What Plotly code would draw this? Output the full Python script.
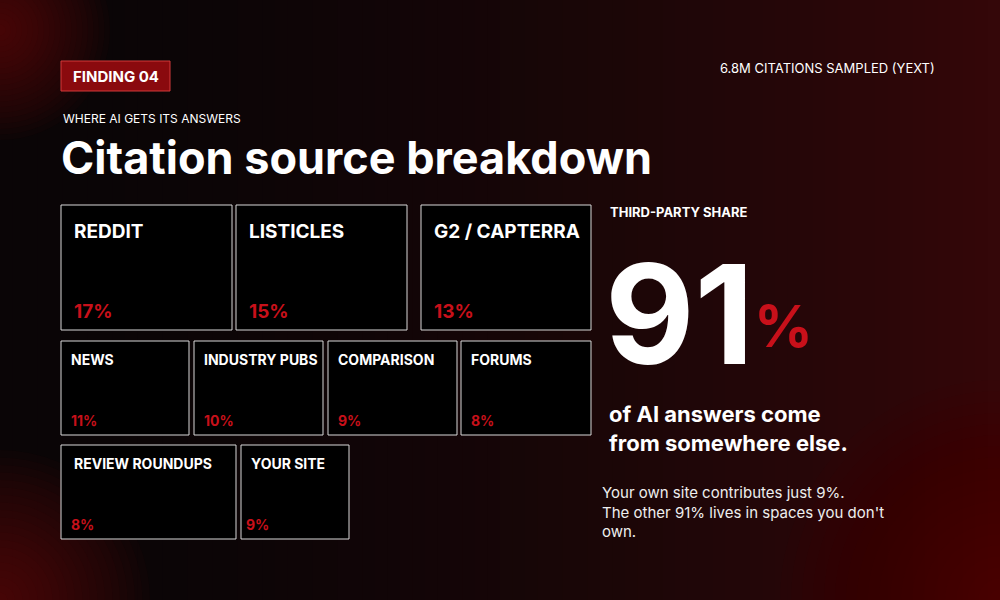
import plotly.graph_objects as go

# ---- data ----
sources = ["REDDIT", "LISTICLES", "G2 / CAPTERRA", "NEWS", "INDUSTRY PUBS", "COMPARISON",
           "FORUMS", "REVIEW ROUNDUPS", "YOUR SITE"]
shares = [17, 15, 13, 11, 10, 9, 8, 8, 9]
third_party_share = 91
own_share = 9

# ---- layout (pixel boxes) ----
box_x0 = [61, 236, 421, 61, 194, 328, 461, 61, 241]
box_x1 = [232, 407, 591, 189, 323, 457, 591, 236, 349]
box_y0 = [205, 205, 205, 341, 341, 341, 341, 445, 445]
box_y1 = [330, 330, 330, 435, 435, 435, 435, 539, 539]
label_size = [19, 19, 19, 14, 14, 14, 14, 14, 14]
FONT = "Inter"

shapes, ann = [], []
# background gradient strips
N = 80
for i in range(N):
    t = i / (N - 1)
    r = int(10 + 42 * t ** 1.8); g = int(5 + 2 * t); b = int(6 + 3 * t)
    shapes.append(dict(type="rect", xref="x", yref="y", x0=1000 * i / N, x1=1000 * (i + 1) / N + 1,
                       y0=0, y1=600, fillcolor=f"rgb({r},{g},{b})", line_width=0, layer="below"))
# soft corner glows
for cx, cy, rad, op in [(0, 30, 110, 0.035), (0, 600, 150, 0.035), (1000, 600, 220, 0.025)]:
    K = 20
    for k in range(K):
        rr = rad * (1 - k / K)
        shapes.append(dict(type="circle", xref="x", yref="y", x0=cx - rr, x1=cx + rr, y0=cy - rr, y1=cy + rr,
                           fillcolor=f"rgba(140,15,20,{op})", line_width=0, layer="below"))

for i, s in enumerate(sources):
    x0, x1, y0, y1 = box_x0[i], box_x1[i], box_y0[i], box_y1[i]
    shapes.append(dict(type="rect", xref="x", yref="y", x0=x0, x1=x1, y0=y0, y1=y1,
                       fillcolor="#000000", line=dict(color="#d8d8d8", width=1)))
    big = label_size[i] > 15
    pad = 11 if big else 8
    if i == 8: pad = 3
    ann.append(dict(x=x0 + (11 if big or i == 7 else 8), y=y0 + (26 if big else 18), text=f"<b>{s}</b>",
                    xanchor="left", yanchor="middle", showarrow=False,
                    font=dict(family=FONT, size=label_size[i], color="white")))
    ann.append(dict(x=x0 + pad, y=y1 - (19 if big else 15), text=f"<b>{shares[i]}%</b>",
                    xanchor="left", yanchor="middle", showarrow=False,
                    font=dict(family=FONT, size=label_size[i], color="#c8101a")))

# badge
shapes.append(dict(type="rect", xref="x", yref="y", x0=61, x1=170, y0=61, y1=91,
                   fillcolor="#8a0a0e", line=dict(color="#d23a3a", width=1)))
ann += [
    dict(x=115.5, y=76, text="<b>FINDING 04</b>", showarrow=False, font=dict(family=FONT, size=15, color="white")),
    dict(x=937, y=68, text="6.8M CITATIONS SAMPLED (YEXT)", xanchor="right", showarrow=False,
         font=dict(family=FONT, size=13, color="white")),
    dict(x=61, y=118, text="WHERE AI GETS ITS ANSWERS", xanchor="left", showarrow=False,
         font=dict(family=FONT, size=12, color="white")),
    dict(x=59, y=157, text="<b>Citation source breakdown</b>", xanchor="left", showarrow=False,
         font=dict(family=FONT, size=45, color="white")),
    dict(x=608, y=212, text="<b>THIRD-PARTY SHARE</b>", xanchor="left", showarrow=False,
         font=dict(family=FONT, size=13, color="white")),
    dict(x=603, y=313, text=f"<b>{third_party_share}</b>", xanchor="left", showarrow=False,
         font=dict(family=FONT, size=138, color="white")),
    dict(x=752, y=326, text="<b>%</b>", xanchor="left", showarrow=False,
         font=dict(family=FONT, size=58, color="#c8101a")),
    dict(x=607, y=428, text="<b>of AI answers come<br>from somewhere else.</b>", xanchor="left", align="left",
         showarrow=False, font=dict(family=FONT, size=22, color="white")),
    dict(x=600, y=512, text=f"Your own site contributes just {own_share}%.<br>The other {third_party_share}% lives in spaces you don't<br>own.",
         xanchor="left", align="left", showarrow=False, font=dict(family=FONT, size=15, color="#eeeeee")),
]

fig = go.Figure(go.Scatter(x=[0, 1000], y=[0, 600], mode="markers", marker=dict(opacity=0), hoverinfo="skip"))
fig.update_layout(width=1000, height=600, margin=dict(l=0, r=0, t=0, b=0), showlegend=False,
                  paper_bgcolor="#0e0607", plot_bgcolor="#0e0607", shapes=shapes, annotations=ann,
                  xaxis=dict(range=[0, 1000], visible=False, fixedrange=True),
                  yaxis=dict(range=[600, 0], visible=False, fixedrange=True))
fig.write_html("out.html", config={"displayModeBar": False},
               post_script="document.body.style.margin='0';document.body.style.background='#0e0607';")
